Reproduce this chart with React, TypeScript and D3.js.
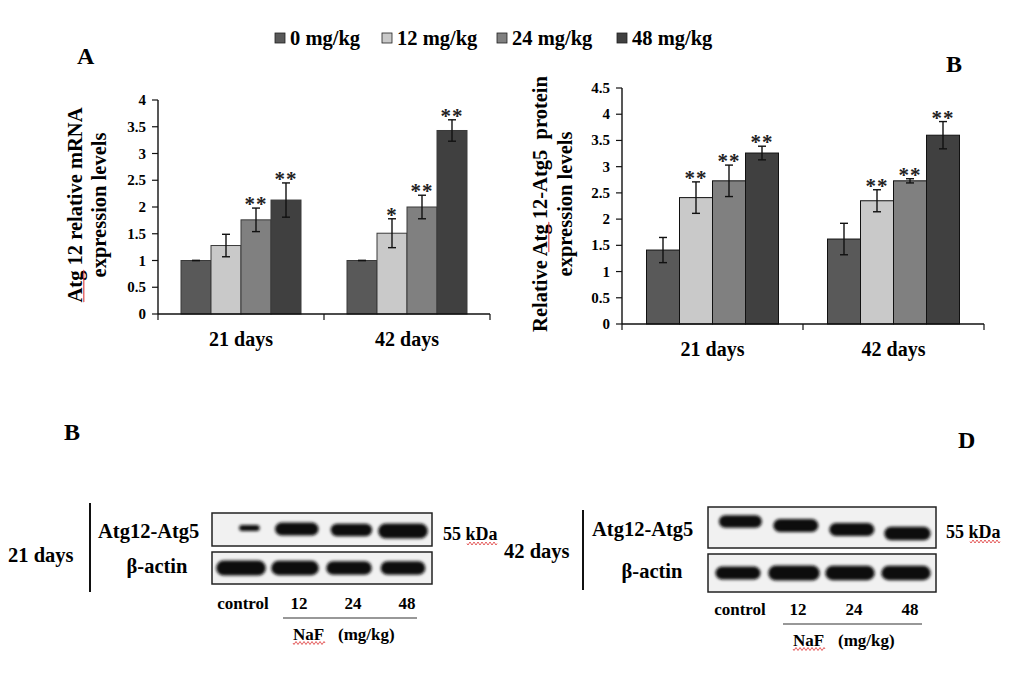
import React from 'react';
import * as d3 from 'd3';

// ---- data ----
const doses = ['0 mg/kg', '12 mg/kg', '24 mg/kg', '48 mg/kg'];
const periods = ['21 days', '42 days'];

const mrnaMean = [
  [1.0, 1.28, 1.76, 2.13],
  [1.0, 1.51, 2.0, 3.43],
];
const mrnaErr = [
  [0, 0.21, 0.22, 0.32],
  [0, 0.27, 0.22, 0.2],
];
const mrnaStars = [
  ['', '', '**', '**'],
  ['', '*', '**', '**'],
];

const proteinMean = [
  [1.41, 2.41, 2.73, 3.26],
  [1.62, 2.35, 2.73, 3.6],
];
const proteinErr = [
  [0.24, 0.3, 0.3, 0.13],
  [0.3, 0.21, 0.04, 0.26],
];
const proteinStars = [
  ['', '**', '**', '**'],
  ['', '**', '**', '**'],
];

const mrnaTicks = [0, 0.5, 1, 1.5, 2, 2.5, 3, 3.5, 4];
const proteinTicks = [0, 0.5, 1, 1.5, 2, 2.5, 3, 3.5, 4, 4.5];

const lanes = ['control', '12', '24', '48'];
// relative band density
const blot21Atg = [0.3, 0.85, 0.8, 1.0];
const blot21Actin = [1.0, 0.95, 0.9, 0.88];
const blot42Atg = [0.8, 0.85, 0.85, 0.88];
const blot42Actin = [0.85, 1.0, 0.95, 0.95];

const colors = ['#595959', '#c9c9c9', '#808080', '#404040'];
const FONT = '"Liberation Serif", "Times New Roman", serif';

// red spell-check squiggle, horizontal
const squiggle = (x: number, y: number, w: number) => {
  let d = `M${x},${y}`;
  for (let i = 0; i < w; i += 2) d += ` l1,${i % 4 === 0 ? 1.5 : -1.5} l1,${i % 4 === 0 ? -1.5 : 1.5}`;
  return d;
};
// vertical version for rotated titles (runs upward)
const vsquiggle = (x: number, y: number, h: number) => {
  let d = `M${x},${y}`;
  for (let i = 0; i < h; i += 2) d += ` l1.5,-1 l-1.5,-1`;
  return d;
};

interface BarProps {
  left: number;
  right: number;
  bottom: number;
  top: number;
  max: number;
  ticks: number[];
  means: number[][];
  errs: number[][];
  stars: string[][];
  groupWidth: number;
  tickAnchor: number;
  labelY: number;
  stroke: string;
}

const BarChart: React.FC<BarProps> = ({
  left, right, bottom, top, max, ticks, means, errs, stars, groupWidth, tickAnchor, labelY, stroke,
}) => {
  const y = d3.scaleLinear().domain([0, max]).range([bottom, top]);
  const x0 = d3.scaleBand().domain(periods).range([left, right]);
  const x1 = d3.scaleBand().domain(doses).range([0, groupWidth]);
  return (
    <g>
      {periods.map((p, gi) => {
        const gx = (x0(p) as number) + x0.bandwidth() / 2 - groupWidth / 2;
        return (
          <g key={p}>
            {doses.map((d, i) => {
              const bx = gx + (x1(d) as number);
              const cx = bx + x1.bandwidth() / 2;
              const v = means[gi][i];
              const e = errs[gi][i];
              const yt = y(v + e);
              const yb = y(v - e);
              return (
                <g key={d}>
                  <rect x={bx} y={y(v)} width={x1.bandwidth()} height={bottom - y(v)}
                    fill={colors[i]} stroke={stroke} strokeWidth={1} />
                  <line x1={cx} x2={cx} y1={yt} y2={yb} stroke="#111" strokeWidth={1.4} />
                  <line x1={cx - 4} x2={cx + 4} y1={yt} y2={yt} stroke="#111" strokeWidth={1.4} />
                  <line x1={cx - 4} x2={cx + 4} y1={yb} y2={yb} stroke="#111" strokeWidth={1.4} />
                  {stars[gi][i] && (
                    <text x={cx} y={yt + 3} textAnchor="middle" fontSize={21} fontWeight="bold"
                      fontFamily={FONT} fill="#222" letterSpacing={1}>{stars[gi][i]}</text>
                  )}
                </g>
              );
            })}
            <text x={(x0(p) as number) + x0.bandwidth() / 2} y={labelY} textAnchor="middle"
              fontSize={20} fontWeight="bold" fontFamily={FONT}>{p}</text>
          </g>
        );
      })}
      <line x1={left} x2={left} y1={bottom} y2={top} stroke="#111" strokeWidth={1.4} />
      <line x1={left} x2={right} y1={bottom} y2={bottom} stroke="#111" strokeWidth={1.4} />
      {ticks.map((t) => (
        <g key={t}>
          <line x1={left - 6} x2={left} y1={y(t)} y2={y(t)} stroke="#111" strokeWidth={1.2} />
          <text x={tickAnchor} y={y(t) + 5} textAnchor="end" fontSize={15} fontWeight="bold"
            fontFamily={FONT}>{String(t)}</text>
        </g>
      ))}
      {[left, left + x0.bandwidth(), right].map((tx) => (
        <line key={tx} x1={tx} x2={tx} y1={bottom} y2={bottom + 6} stroke="#111" strokeWidth={1.2} />
      ))}
    </g>
  );
};

interface BlotProps {
  boxLeft: number;
  boxRight: number;
  topBox: [number, number];
  actinBox: [number, number];
  atg: number[];
  actin: number[];
  tilt: number;
  labelLeft: number;
  actinCenter: number;
  lineX: number;
  lineY: [number, number];
  period: string;
  periodX: number;
  periodY: number;
  laneY: number;
  ruleX: [number, number];
  ruleY: number;
  kdaX: number;
}

const Blot: React.FC<BlotProps> = ({
  boxLeft, boxRight, topBox, actinBox, atg, actin, tilt, labelLeft, actinCenter, lineX, lineY,
  period, periodX, periodY, laneY, ruleX, ruleY, kdaX,
}) => {
  const lx = d3.scaleBand().domain(lanes).range([boxLeft + 2, boxRight - 2]);
  const bw = d3.scaleLinear().domain([0, 1]).range([0.15, 0.92]);
  const bh = d3.scaleLinear().domain([0, 1]).range([2, 15]);
  const topMid = (topBox[0] + topBox[1]) / 2;
  const actMid = (actinBox[0] + actinBox[1]) / 2;
  return (
    <g fontFamily={FONT} fontWeight="bold">
      <text x={periodX} y={periodY} fontSize={20.5}>{period}</text>
      <line x1={lineX} x2={lineX} y1={lineY[0]} y2={lineY[1]} stroke="#111" strokeWidth={2} />
      <text x={labelLeft} y={topMid + 8} fontSize={20.5}>Atg12-Atg5</text>
      <text x={actinCenter} y={actMid + 5} fontSize={20.5} textAnchor="middle">β-actin</text>
      <rect x={boxLeft} y={topBox[0]} width={boxRight - boxLeft} height={topBox[1] - topBox[0]}
        fill="#f1f1f1" stroke="#222" strokeWidth={1.5} />
      <rect x={boxLeft} y={actinBox[0]} width={boxRight - boxLeft} height={actinBox[1] - actinBox[0]}
        fill="#f1f1f1" stroke="#222" strokeWidth={1.5} />
      {lanes.map((l, i) => {
        const w = lx.bandwidth() * bw(atg[i]);
        const h = bh(atg[i]);
        const cx = (lx(l) as number) + lx.bandwidth() / 2 + (1 - atg[i]) * 12;
        const cy = topMid + tilt * (i - 1.5);
        const wa = lx.bandwidth() * bw(actin[i]);
        const ha = bh(actin[i]);
        const ca = (lx(l) as number) + lx.bandwidth() / 2;
        return (
          <g key={l} filter="url(#blur)">
            <rect x={cx - w / 2} y={cy - h / 2} width={w} height={h} rx={h / 2} fill="#111" />
            <rect x={ca - wa / 2} y={actMid - ha / 2} width={wa} height={ha} rx={ha / 2} fill="#111" />
          </g>
        );
      })}
      {lanes.map((l) => (
        <text key={l} x={(lx(l) as number) + lx.bandwidth() / 2 + (l === 'control' ? 2 : 4)} y={laneY}
          fontSize={17} textAnchor="middle">{l}</text>
      ))}
      <line x1={ruleX[0]} x2={ruleX[1]} y1={ruleY} y2={ruleY} stroke="#333" strokeWidth={1.2} />
      <text x={ruleX[0] + 10} y={ruleY + 22} fontSize={17}>NaF</text>
      <path d={squiggle(ruleX[0] + 10, ruleY + 25, 32)} fill="none" stroke="#d33" strokeWidth={0.8} />
      <text x={ruleX[0] + 55} y={ruleY + 22} fontSize={17}>(mg/kg)</text>
      <text x={kdaX} y={topMid + 10} fontSize={18}>55 kDa</text>
      <path d={squiggle(kdaX + 24, topMid + 14, 30)} fill="none" stroke="#d33" strokeWidth={0.8} />
    </g>
  );
};

export default function App() {
  const legendX = [275, 382, 497, 617];
  return (
    <svg width={1020} height={677} style={{ position: 'absolute', left: 0, top: 0, background: '#fff' }}
      fontFamily={FONT}>
      <defs>
        <filter id="blur" x="-20%" y="-50%" width="140%" height="200%">
          <feGaussianBlur stdDeviation="1.4" />
        </filter>
      </defs>

      {/* legend */}
      {doses.map((d, i) => (
        <g key={d}>
          <rect x={legendX[i]} y={33} width={10} height={10} fill={colors[i]} stroke="#222" strokeWidth={0.8} />
          <text x={legendX[i] + 15} y={45} fontSize={20.5} fontWeight="bold">{d}</text>
        </g>
      ))}

      <text x={77} y={64} fontSize={24} fontWeight="bold">A</text>
      <text x={946} y={72} fontSize={24} fontWeight="bold">B</text>

      {/* panel A */}
      <g transform="translate(82,205) rotate(-90)">
        <text textAnchor="middle" fontSize={20.5} fontWeight="bold">Atg 12 relative mRNA</text>
      </g>
      <g transform="translate(106,205) rotate(-90)">
        <text textAnchor="middle" fontSize={20.5} fontWeight="bold">expression levels</text>
      </g>
      <path d={vsquiggle(83, 302, 32)} fill="none" stroke="#d33" strokeWidth={0.8} />
      <BarChart left={158} right={490} bottom={314} top={100} max={4} ticks={mrnaTicks}
        means={mrnaMean} errs={mrnaErr} stars={mrnaStars} groupWidth={120} tickAnchor={146}
        labelY={346} stroke="#3a3a3a" />

      {/* panel B */}
      <g transform="translate(547,204) rotate(-90)">
        <text textAnchor="middle" fontSize={20.5} fontWeight="bold" xmlSpace="preserve">Relative Atg 12-Atg5  protein</text>
      </g>
      <g transform="translate(572,204) rotate(-90)">
        <text textAnchor="middle" fontSize={20.5} fontWeight="bold">expression levels</text>
      </g>
      <path d={vsquiggle(548, 252, 30)} fill="none" stroke="#d33" strokeWidth={0.8} />
      <BarChart left={622} right={984} bottom={324} top={88} max={4.5} ticks={proteinTicks}
        means={proteinMean} errs={proteinErr} stars={proteinStars} groupWidth={132} tickAnchor={610}
        labelY={356} stroke="#111" />

      {/* blots */}
      <text x={64} y={440} fontSize={24} fontWeight="bold">B</text>
      <text x={958} y={448} fontSize={24} fontWeight="bold">D</text>

      <Blot boxLeft={212} boxRight={432} topBox={[513, 546]} actinBox={[552, 584]}
        atg={blot21Atg} actin={blot21Actin} tilt={1} labelLeft={98} actinCenter={157}
        lineX={90} lineY={[503, 592]} period="21 days" periodX={8} periodY={562}
        laneY={609} ruleX={[283, 417]} ruleY={618} kdaX={443} />
      <Blot boxLeft={708} boxRight={936} topBox={[507, 548]} actinBox={[554, 592]}
        atg={blot42Atg} actin={blot42Actin} tilt={4} labelLeft={592} actinCenter={652}
        lineX={583} lineY={[510, 590]} period="42 days" periodX={504} periodY={558}
        laneY={615} ruleX={[783, 922]} ruleY={624} kdaX={946} />
    </svg>
  );
}
